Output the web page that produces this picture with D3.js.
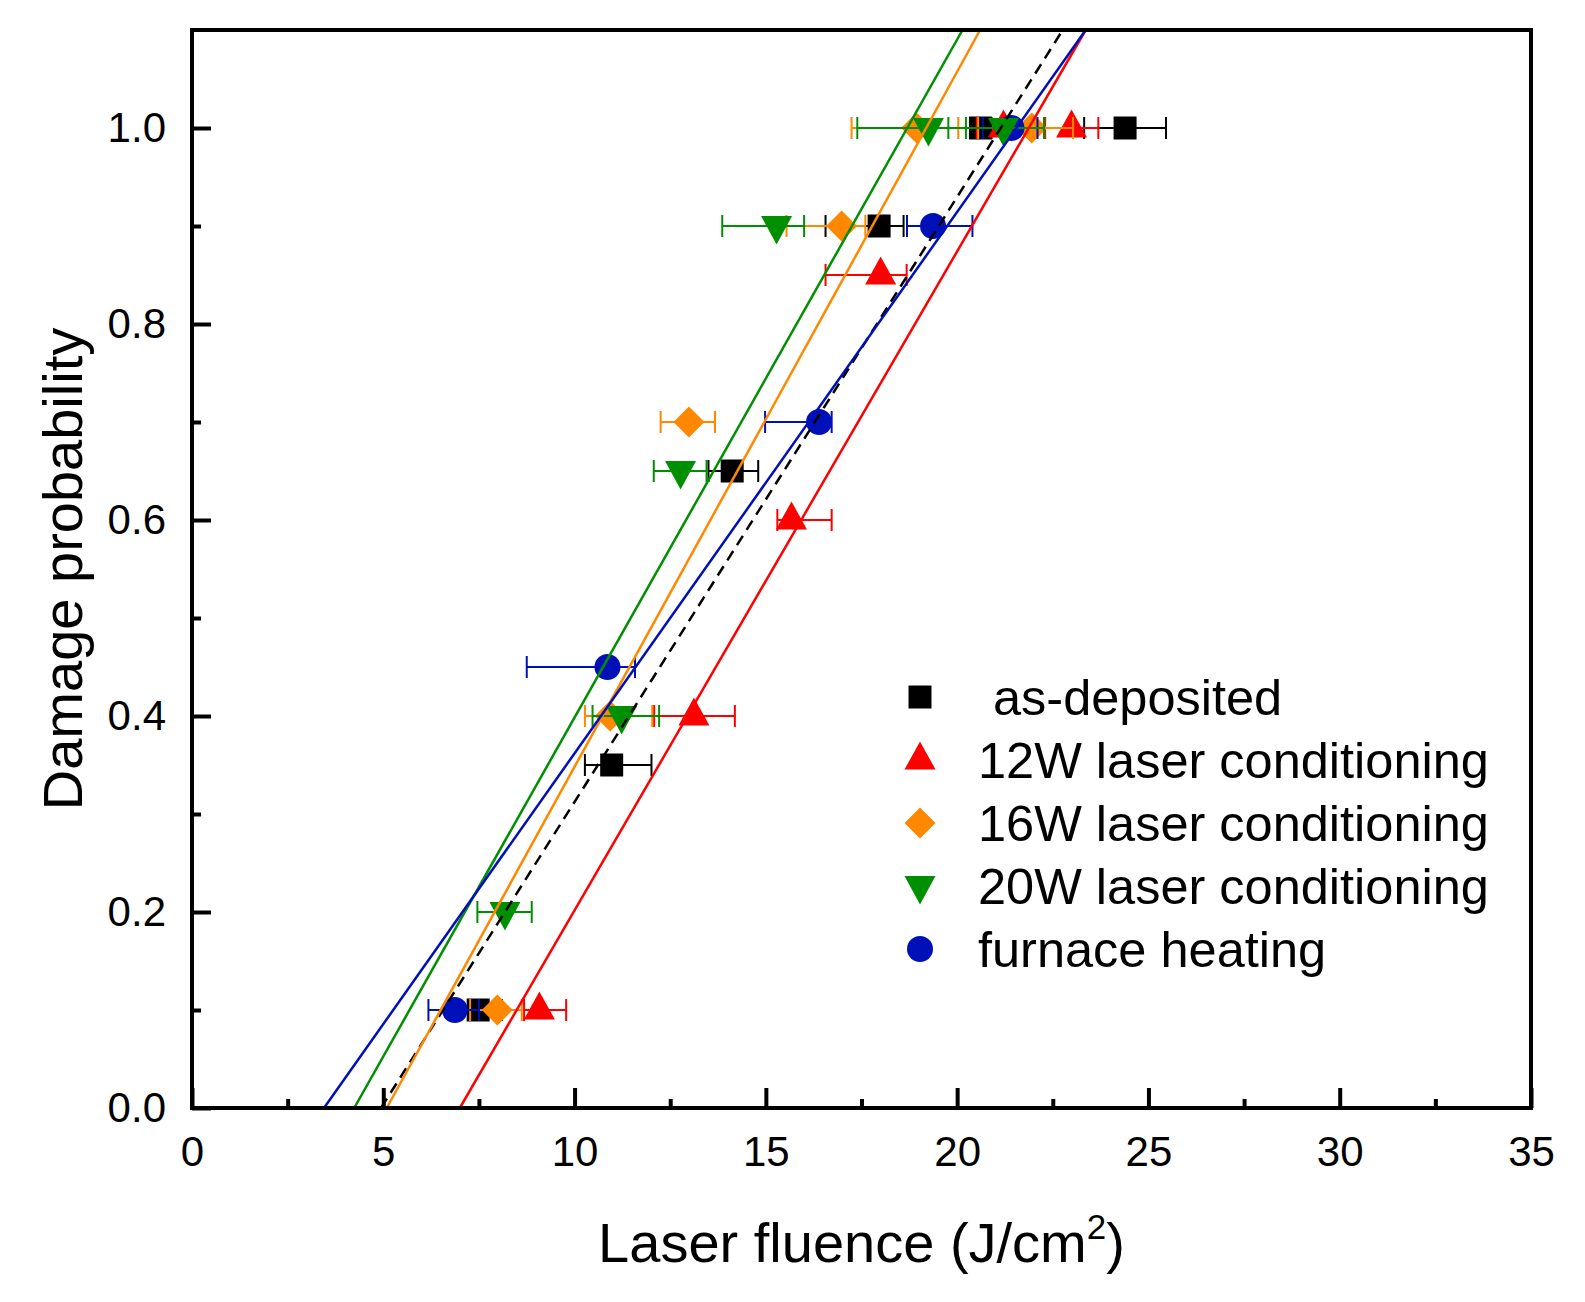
<!DOCTYPE html>
<html>
<head>
<meta charset="utf-8">
<script src="https://cdn.jsdelivr.net/npm/d3@7"></script>
<style>
  body { margin: 0; background: #fff; }
  text { font-family: "Liberation Sans", Arial, sans-serif; }
</style>
</head>
<body>
<script>
const width = 1585;
const height = 1302;

// data: fluence (J/cm2), probability, error bar ends
const seriesNames = ['as-deposited', '12W laser conditioning', '16W laser conditioning', '20W laser conditioning', 'furnace heating'];
const seriesColors = ['#000000', '#ff0000', '#ff8800', '#008f00', '#0010b8'];
const seriesShapes = ['square', 'triangle', 'diamond', 'triangleDown', 'circle'];

const blackX  = [7.48, 10.97, 14.12, 17.96, 20.61, 24.39];
const blackP  = [0.1, 0.35, 0.65, 0.9, 1.0, 1.0];
const blackLo = [6.9, 10.27, 13.5, 16.56, 20.35, 23.32];
const blackHi = [8.1, 12.01, 14.8, 18.6, 20.9, 25.46];

const redX  = [9.08, 13.12, 15.67, 18.0, 21.21, 22.99];
const redP  = [0.1, 0.4, 0.6, 0.85, 1.0, 1.0];
const redLo = [8.68, 12.08, 15.3, 16.56, 20.51, 22.3];
const redHi = [9.78, 14.19, 16.72, 18.68, 21.9, 23.69];

const orangeX  = [7.98, 10.93, 12.99, 16.98, 18.94, 21.95];
const orangeP  = [0.1, 0.4, 0.7, 0.9, 1.0, 1.0];
const orangeLo = [7.27, 10.27, 12.25, 15.54, 17.24, 20.55];
const orangeHi = [8.62, 12.03, 13.67, 17.6, 20.03, 23.03];

const greenX  = [8.18, 11.23, 12.77, 15.28, 19.25, 21.21];
const greenP  = [0.2, 0.4, 0.65, 0.9, 1.0, 1.0];
const greenLo = [7.46, 10.47, 12.07, 13.86, 17.39, 19.77];
const greenHi = [8.88, 12.21, 13.45, 16.0, 20.23, 22.27];

const blueX  = [6.87, 10.86, 16.39, 19.37, 21.42];
const blueP  = [0.1, 0.45, 0.7, 0.9, 1.0];
const blueLo = [6.18, 8.75, 14.98, 18.69, 20.67];
const blueHi = [7.5, 11.58, 16.72, 20.4, 22.1];

// linear fits: fluence at probability 0 and at 1.1
const fitP = [0, 1.1];
const fitX = [
    [4.94, 22.76],
    [7.0, 23.36],
    [5.09, 20.6],
    [4.24, 20.14],
    [3.45, 23.36]
];

const xMajor = [0, 5, 10, 15, 20, 25, 30, 35];
const xMinor = [2.5, 7.5, 12.5, 17.5, 22.5, 27.5, 32.5];
const yMajor = [0, 0.2, 0.4, 0.6, 0.8, 1.0];
const yMinor = [0.1, 0.3, 0.5, 0.7, 0.9];

const plotLeft = 192, plotRight = 1531, plotTop = 30, plotBottom = 1108;

const svg = d3.select('body').append('svg')
    .attr('width', width)
    .attr('height', height);

const x = d3.scaleLinear().domain([0, 35]).range([plotLeft, plotRight]);
const y = d3.scaleLinear().domain([0, 1.1]).range([plotBottom, plotTop]);

function shapePath(shape) {
    if (shape == 'square') return 'M-11.5,-11.5H11.5V11.5H-11.5Z';
    if (shape == 'triangle') return 'M0,-18.5L15.5,9.5L-15.5,9.5Z';
    if (shape == 'triangleDown') return 'M0,18.5L15.5,-10L-15.5,-10Z';
    if (shape == 'diamond') return 'M0,-15.5L15.5,0L0,15.5L-15.5,0Z';
    return d3.symbol().type(d3.symbolCircle).size(Math.PI * 13 * 13)();
}

const series = [
    {x: blackX, p: blackP, lo: blackLo, hi: blackHi},
    {x: redX, p: redP, lo: redLo, hi: redHi},
    {x: orangeX, p: orangeP, lo: orangeLo, hi: orangeHi},
    {x: greenX, p: greenP, lo: greenLo, hi: greenHi},
    {x: blueX, p: blueP, lo: blueLo, hi: blueHi}
].map((s, i) => ({
    color: seriesColors[i],
    shape: seriesShapes[i],
    points: s.x.map((v, j) => ({x: v, p: s.p[j], lo: s.lo[j], hi: s.hi[j]}))
}));

// draw order as in the picture: blue below green
const drawOrder = [0, 1, 2, 4, 3];

// ticks (inward)
svg.append('g')
    .attr('transform', `translate(0,${plotBottom})`)
    .call(d3.axisBottom(x).tickValues(xMajor).tickSize(-20).tickPadding(28).tickFormat(d3.format('d')))
    .call(g => g.select('.domain').remove());
svg.append('g')
    .attr('transform', `translate(0,${plotBottom})`)
    .call(d3.axisBottom(x).tickValues(xMinor).tickSize(-9).tickFormat(''))
    .call(g => g.select('.domain').remove());
svg.append('g')
    .attr('transform', `translate(${plotLeft},0)`)
    .call(d3.axisLeft(y).tickValues(yMajor).tickSize(-19).tickPadding(26).tickFormat(d3.format('.1f')))
    .call(g => g.select('.domain').remove());
svg.append('g')
    .attr('transform', `translate(${plotLeft},0)`)
    .call(d3.axisLeft(y).tickValues(yMinor).tickSize(-9).tickFormat(''))
    .call(g => g.select('.domain').remove());

svg.selectAll('.tick line').attr('stroke', '#000').attr('stroke-width', 4);
svg.selectAll('.tick text').attr('font-size', 42).attr('fill', '#000')
    .style('font-family', '"Liberation Sans", Arial, sans-serif');

// error bars and markers
drawOrder.forEach(i => {
    const s = series[i];
    const g = svg.append('g');
    const bars = g.selectAll('g.err').data(s.points).enter().append('g')
        .attr('stroke', s.color).attr('stroke-width', 2).attr('fill', 'none');
    bars.append('line')
        .attr('x1', d => x(d.lo)).attr('x2', d => x(d.hi))
        .attr('y1', d => y(d.p)).attr('y2', d => y(d.p));
    bars.append('line')
        .attr('x1', d => x(d.lo)).attr('x2', d => x(d.lo))
        .attr('y1', d => y(d.p) - 11).attr('y2', d => y(d.p) + 11);
    bars.append('line')
        .attr('x1', d => x(d.hi)).attr('x2', d => x(d.hi))
        .attr('y1', d => y(d.p) - 11).attr('y2', d => y(d.p) + 11);
    g.selectAll('path').data(s.points).enter().append('path')
        .attr('d', shapePath(s.shape))
        .attr('fill', s.color)
        .attr('transform', d => `translate(${x(d.x)},${y(d.p)})`);
});

// fit lines, on top of the markers
const fitLine = d3.line().x(d => x(d[0])).y(d => y(d[1]));
fitX.forEach((f, i) => {
    svg.append('path')
        .attr('d', fitLine(f.map((v, j) => [v, fitP[j]])))
        .attr('stroke', seriesColors[i])
        .attr('stroke-width', 2.5)
        .attr('fill', 'none')
        .attr('stroke-dasharray', i == 0 ? '11,7' : null);
});

// frame
svg.append('rect')
    .attr('x', plotLeft).attr('y', plotTop)
    .attr('width', plotRight - plotLeft).attr('height', plotBottom - plotTop)
    .attr('fill', 'none').attr('stroke', '#000').attr('stroke-width', 4);

// legend
const legend = svg.append('g');
seriesNames.forEach((name, i) => {
    const ly = 697 + i * 63;
    legend.append('path')
        .attr('d', shapePath(seriesShapes[i]))
        .attr('fill', seriesColors[i])
        .attr('transform', `translate(920,${ly})`);
    legend.append('text')
        .attr('x', i == 0 ? 993 : 978)
        .attr('y', ly)
        .attr('dy', '0.35em')
        .attr('font-size', 50.5)
        .text(name);
});

// axis titles
svg.append('text')
    .attr('transform', `translate(82,${(plotTop + plotBottom) / 2}) rotate(-90)`)
    .attr('text-anchor', 'middle')
    .attr('font-size', 56)
    .text('Damage probability');

const xTitle = svg.append('text')
    .attr('x', (plotLeft + plotRight) / 2)
    .attr('y', 1262)
    .attr('text-anchor', 'middle')
    .attr('font-size', 56);
xTitle.append('tspan').text('Laser fluence (J/cm');
xTitle.append('tspan').attr('font-size', 35).attr('dy', -23).text('2');
xTitle.append('tspan').attr('dy', 23).text(')');
</script>
</body>
</html>
